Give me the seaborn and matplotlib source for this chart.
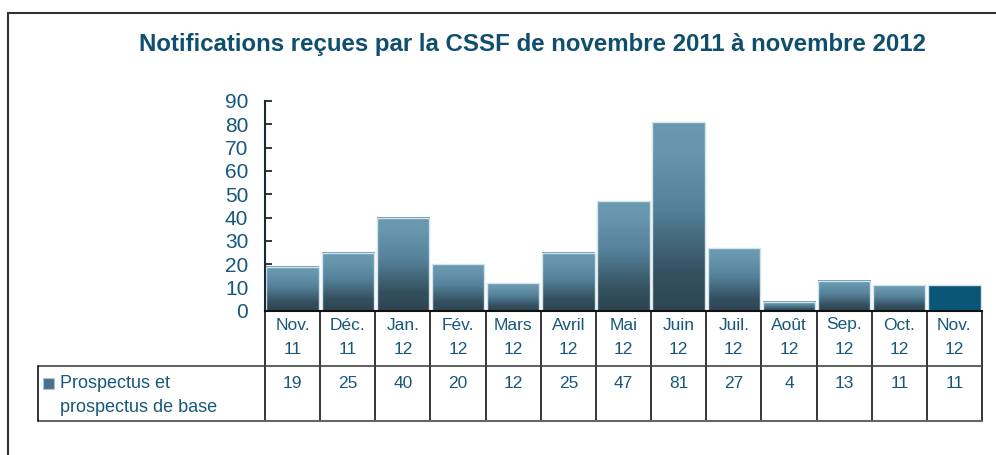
import numpy as np
import pandas as pd
import matplotlib.pyplot as plt
import seaborn as sns
from matplotlib.colors import LinearSegmentedColormap
from matplotlib.patches import Rectangle
import matplotlib.transforms as mtransforms

# Data
months = ['Nov.', 'Déc.', 'Jan.', 'Fév.', 'Mars', 'Avril', 'Mai', 'Juin', 'Juil.', 'Août', 'Sep.', 'Oct.', 'Nov.']
years = ['11', '11', '12', '12', '12', '12', '12', '12', '12', '12', '12', '12', '12']
values = [19, 25, 40, 20, 12, 25, 47, 81, 27, 4, 13, 11, 11]
series_lines = ['Prospectus et', 'prospectus de base']
title = 'Notifications reçues par la CSSF de novembre 2011 à novembre 2012'

df = pd.DataFrame({'period': [f'{m} {y}' for m, y in zip(months, years)], 'value': values})

sns.set_style('white')
plt.rcParams['font.family'] = ['Liberation Sans', 'DejaVu Sans']

text_col = '#17587a'
fig = plt.figure(figsize=(9.96, 4.55), dpi=100)
ax = fig.add_axes([265 / 996, 1 - 311 / 455, 717 / 996, 210 / 455])

sns.barplot(data=df, x='period', y='value', color='#5b8aa3', width=0.95,
            edgecolor='#d3e3eb', linewidth=1, ax=ax, zorder=2)

# gradient fill on bars (light top, dark bottom), last bar solid
cmap = LinearSegmentedColormap.from_list('g', [(0, '#2e4451'), (0.2, '#34505f'),
                                               (0.55, '#55829a'), (0.85, '#6796ae'),
                                               (1, '#6a9ab2')])
grad = np.linspace(0, 1, 256).reshape(-1, 1)
patches = list(ax.patches)
for i, p in enumerate(patches):
    x0, y0 = p.get_x(), p.get_y()
    w, h = p.get_width(), p.get_height()
    if i == len(patches) - 1:
        p.set_facecolor('#0b5577')
        continue
    ax.imshow(grad, extent=[x0, x0 + w, y0, y0 + h], origin='lower', aspect='auto',
              cmap=cmap, interpolation='bicubic', zorder=1.5)
    p.set_facecolor('none')

ax.set_xlim(-0.5, 12.5)
ax.set_ylim(0, 90)
ax.set_yticks(range(0, 91, 10))
ax.set_xlabel('')
ax.set_ylabel('')
ax.tick_params(axis='x', length=0, labelbottom=False)
ax.tick_params(axis='y', direction='in', length=5, width=1.3, color='#1b2a30',
               labelsize=15, labelcolor=text_col, pad=12, left=True)
for s in ['top', 'right']:
    ax.spines[s].set_visible(False)
ax.spines['left'].set_color('#1b2a30')
ax.spines['left'].set_linewidth(1.5)
ax.spines['bottom'].set_color('#111111')
ax.spines['bottom'].set_linewidth(1.5)

# data table below the axis
bt = mtransforms.blended_transform_factory(ax.transData, ax.transAxes)
row1 = -55 / 210
row2 = -110 / 210
left_cell = (38 - 265) / 717
for i in range(len(values) + 1):
    ax.plot([i - 0.5, i - 0.5], [0, row2], transform=bt, color='black', lw=1.1,
            clip_on=False)
ax.plot([left_cell, 1], [row1, row1], transform=ax.transAxes, color='#444444', lw=1.2, clip_on=False)
ax.plot([left_cell, 1], [row2, row2], transform=ax.transAxes, color='#666666', lw=1.5, clip_on=False)
ax.plot([left_cell, left_cell], [row1, row2], transform=ax.transAxes, color='black', lw=1.1, clip_on=False)

for i, (m, y, v) in enumerate(zip(months, years, values)):
    ax.text(i, -14 / 210, m, transform=bt, ha='center', va='center', fontsize=12.5, color=text_col)
    ax.text(i, -38 / 210, y, transform=bt, ha='center', va='center', fontsize=12.5, color=text_col)
    ax.text(i, -72 / 210, str(v), transform=bt, ha='center', va='center', fontsize=12.5, color=text_col)

for k, line in enumerate(series_lines):
    ax.text((60 - 265) / 717, -(72 + 25 * k) / 210, line, transform=ax.transAxes, ha='left',
            va='center', fontsize=13, color=text_col)
ax.add_patch(Rectangle(((43 - 265) / 717, -78 / 210), 11 / 717, 11 / 210, transform=ax.transAxes,
                       facecolor='#4a7087', edgecolor='#a9c3d1', lw=0.8, clip_on=False))

fig.text(532 / 996, 1 - 45 / 455, title, ha='center', va='center', fontsize=17.3,
         fontweight='bold', color='#0f4e6c')

# outer frame
fig.patches.append(Rectangle((8 / 996, -0.05), 1.2, 1 - 13 / 455 + 0.05, transform=fig.transFigure,
                             fill=False, edgecolor='#333333', lw=1.5))

fig.savefig('out.png', dpi=100)
